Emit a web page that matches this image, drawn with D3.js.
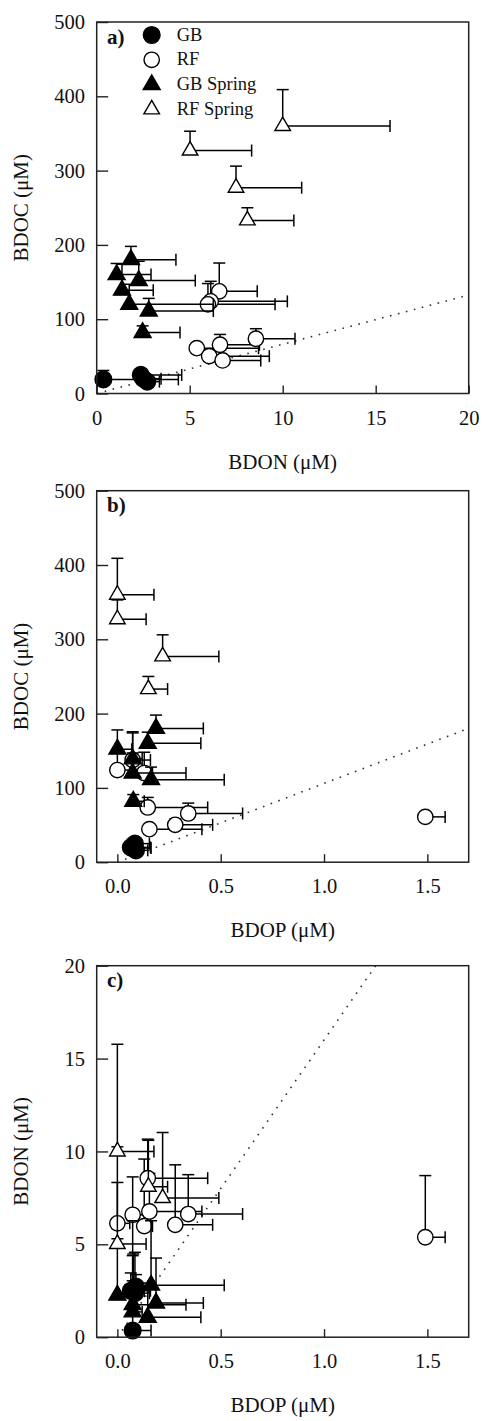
<!DOCTYPE html>
<html>
<head>
<meta charset="utf-8">
<script src="https://cdn.jsdelivr.net/npm/d3@7"></script>
<style>
  body { margin: 0; background: #fff; }
  svg text { font-family: "Liberation Serif", "Times New Roman", serif; fill: #111; }
</style>
</head>
<body>
<div id="chart"></div>
<script>
// each sample: BDON, BDOC, BDOP (µM) with the upper end of its error bar
const gbData = [
    {don: 0.36, donHi: 4.39, doc: 19, docHi: 31, dop: 0.074, dopHi: 0.163},
    {don: 2.37, donHi: 4.57, doc: 25, docHi: 29, dop: 0.085, dopHi: 0.155},
    {don: 2.72, donHi: 3.37, doc: 16, docHi: 20, dop: 0.09, dopHi: 0.147},
    {don: 2.50, donHi: 3.46, doc: 20, docHi: 24, dop: 0.065, dopHi: 0.16}
];
const rfData = [
    {don: 6.59, donHi: 8.63, doc: 137.5, docHi: 175.6, dop: 0.074, dopHi: 0.16},
    {don: 6.13, donHi: 10.25, doc: 124, docHi: 151, dop: 0.0, dopHi: 0.06},
    {don: 5.98, donHi: 9.59, doc: 120, docHi: 148, dop: 0.13, dopHi: 0.17},
    {don: 5.38, donHi: 8.7, doc: 61, docHi: 61, dop: 1.49, dopHi: 1.586},
    {don: 6.63, donHi: 8.75, doc: 65.6, docHi: 79.5, dop: 0.343, dopHi: 0.606},
    {don: 8.56, donHi: 10.66, doc: 73.7, docHi: 87.2, dop: 0.147, dopHi: 0.437},
    {don: 6.05, donHi: 9.28, doc: 50.3, docHi: 58, dop: 0.28, dopHi: 0.461},
    {don: 6.77, donHi: 8.82, doc: 44.5, docHi: 50, dop: 0.155, dopHi: 0.409}
];
const gbSpringData = [
    {don: 1.84, donHi: 4.26, doc: 180, docHi: 198, dop: 0.187, dopHi: 0.416},
    {don: 1.07, donHi: 2.92, doc: 160, docHi: 175, dop: 0.147, dopHi: 0.404},
    {don: 2.26, donHi: 5.30, doc: 152, docHi: 178, dop: 0.0, dopHi: 0.07},
    {don: 1.36, donHi: 3.04, doc: 139, docHi: 174, dop: 0.074, dopHi: 0.12},
    {don: 1.75, donHi: 6.27, doc: 120, docHi: 147, dop: 0.074, dopHi: 0.332},
    {don: 2.80, donHi: 6.27, doc: 111, docHi: 128, dop: 0.163, dopHi: 0.517},
    {don: 2.47, donHi: 4.48, doc: 82, docHi: 91, dop: 0.077, dopHi: 0.13}
];
const rfSpringData = [
    {don: 10.0, donHi: 15.77, doc: 360, docHi: 409, dop: 0.0, dopHi: 0.177},
    {don: 5.02, donHi: 8.33, doc: 327, docHi: 353, dop: 0.0, dopHi: 0.139},
    {don: 7.49, donHi: 11.02, doc: 277, docHi: 306, dop: 0.219, dopHi: 0.491},
    {don: 8.10, donHi: 10.6, doc: 233, docHi: 250, dop: 0.15, dopHi: 0.243}
];

const seriesNames = ["GB", "RF", "GB Spring", "RF Spring"];

// Redfield ratios for the dotted lines
const ratioCN = 106 / 16;
const ratioCP = 106;
const ratioNP = 16;

const docTicks = [0, 100, 200, 300, 400, 500];
const donTicksX = [0, 5, 10, 15, 20];
const dopTicks = [0.0, 0.5, 1.0, 1.5];
const donTicksY = [0, 5, 10, 15, 20];

const width = 486, height = 1421;
const svg = d3.select("#chart").append("svg")
    .attr("width", width)
    .attr("height", height);

svg.append("rect").attr("width", width).attr("height", height).attr("fill", "#fff");

const left = 96.7, right = 468.7, plotH = 371.5;

// marker styles per series
const series = [
    {name: seriesNames[0], data: gbData, shape: d3.symbolCircle, size: 220, fill: "#000", stroke: "#000"},
    {name: seriesNames[1], data: rfData, shape: d3.symbolCircle, size: 186, fill: "#fff", stroke: "#000"},
    {name: seriesNames[2], data: gbSpringData, shape: d3.symbolTriangle, size: 125, fill: "#000", stroke: "#000"},
    {name: seriesNames[3], data: rfSpringData, shape: d3.symbolTriangle, size: 105, fill: "#fff", stroke: "#000"}
];

const panels = [
    {label: "a)", top: 22, xKey: "don", yKey: "doc", xDomain: [0, 20], yDomain: [0, 500],
        xTicks: donTicksX, yTicks: docTicks, xFmt: d3.format("d"), ratio: ratioCN,
        xTitle: "BDON (\u03BCM)", yTitle: "BDOC (\u03BCM)", legend: true},
    {label: "b)", top: 490.7, xKey: "dop", yKey: "doc", xDomain: [-0.1, 1.7], yDomain: [0, 500],
        xTicks: dopTicks, yTicks: docTicks, xFmt: d3.format(".1f"), ratio: ratioCP,
        xTitle: "BDOP (\u03BCM)", yTitle: "BDOC (\u03BCM)", legend: false},
    {label: "c)", top: 965.7, xKey: "dop", yKey: "don", xDomain: [-0.1, 1.7], yDomain: [0, 20],
        xTicks: dopTicks, yTicks: donTicksY, xFmt: d3.format(".1f"), ratio: ratioNP,
        xTitle: "BDOP (\u03BCM)", yTitle: "BDON (\u03BCM)", legend: false}
];

panels.forEach(p => {
    let bottom = p.top + plotH;
    let x = d3.scaleLinear().domain(p.xDomain).range([left, right]);
    let y = d3.scaleLinear().domain(p.yDomain).range([bottom, p.top]);

    let g = svg.append("g");

    // axes (ticks point inward)
    let xAxis = g.append("g")
        .attr("transform", `translate(0, ${bottom})`)
        .call(d3.axisBottom(x).tickValues(p.xTicks).tickFormat(p.xFmt).tickSize(-8).tickPadding(16.5));
    let yAxis = g.append("g")
        .attr("transform", `translate(${left}, 0)`)
        .call(d3.axisLeft(y).tickValues(p.yTicks).tickSize(-11.5).tickPadding(11.7));
    [xAxis, yAxis].forEach(a => {
        a.select(".domain").remove();
        a.selectAll("line").attr("stroke", "#222").attr("stroke-width", 1.4);
        a.selectAll("text").style("font-size", "20.5px").attr("fill", "#111");
    });

    // redfield line
    let xEnd = Math.min(p.xDomain[1], p.yDomain[1] / p.ratio);
    g.append("line")
        .attr("x1", x(0)).attr("y1", y(0))
        .attr("x2", x(xEnd)).attr("y2", y(xEnd * p.ratio))
        .attr("stroke", "#333")
        .attr("stroke-width", 1.6)
        .attr("stroke-dasharray", "1.6 6.6");

    // points + error bars, one series at a time
    series.forEach(s => {
        let eb = g.append("g").attr("stroke", "#000").attr("stroke-width", 1.5).attr("fill", "none");
        s.data.forEach(d => {
            let px = x(d[p.xKey]), py = y(d[p.yKey]);
            let xHi = x(d[p.xKey + "Hi"]), yHi = y(d[p.yKey + "Hi"]);
            if (xHi - px > 0.5) {
                eb.append("line").attr("x1", px).attr("x2", xHi).attr("y1", py).attr("y2", py);
                eb.append("line").attr("x1", xHi).attr("x2", xHi).attr("y1", py - 6).attr("y2", py + 6);
            }
            if (py - yHi > 0.5) {
                eb.append("line").attr("x1", px).attr("x2", px).attr("y1", py).attr("y2", yHi);
                eb.append("line").attr("x1", px - 6).attr("x2", px + 6).attr("y1", yHi).attr("y2", yHi);
            }
        });
        g.append("g").selectAll("path")
            .data(s.data)
            .enter()
            .append("path")
            .attr("d", d3.symbol().type(s.shape).size(s.size))
            .attr("transform", d => `translate(${x(d[p.xKey])}, ${y(d[p.yKey])})`)
            .attr("fill", s.fill)
            .attr("stroke", s.stroke)
            .attr("stroke-width", 1.4);
    });

    // frame
    g.append("rect")
        .attr("x", left).attr("y", p.top)
        .attr("width", right - left).attr("height", plotH)
        .attr("fill", "none")
        .attr("stroke", "#222")
        .attr("stroke-width", 1.5);

    // panel label
    g.append("text")
        .attr("x", 107).attr("y", p.top + 21.5)
        .style("font-size", "21px")
        .style("font-weight", "bold")
        .text(p.label);

    // axis titles
    g.append("text")
        .attr("x", (left + right) / 2).attr("y", bottom + 75)
        .attr("text-anchor", "middle")
        .style("font-size", "21px")
        .text(p.xTitle);
    g.append("text")
        .attr("transform", `translate(28, ${(p.top + bottom) / 2}) rotate(-90)`)
        .attr("text-anchor", "middle")
        .style("font-size", "21px")
        .text(p.yTitle);

    if (p.legend) {
        let lg = g.append("g");
        series.forEach((s, i) => {
            let ly = p.top + 13 + i * 24.8;
            lg.append("path")
                .attr("d", d3.symbol().type(s.shape).size(s.size))
                .attr("transform", `translate(151.7, ${ly})`)
                .attr("fill", s.fill)
                .attr("stroke", s.stroke)
                .attr("stroke-width", 1.4);
            lg.append("text")
                .attr("x", 176.7).attr("y", ly + 5.5)
                .style("font-size", "18.5px")
                .text(s.name);
        });
    }
});
</script>
</body>
</html>
